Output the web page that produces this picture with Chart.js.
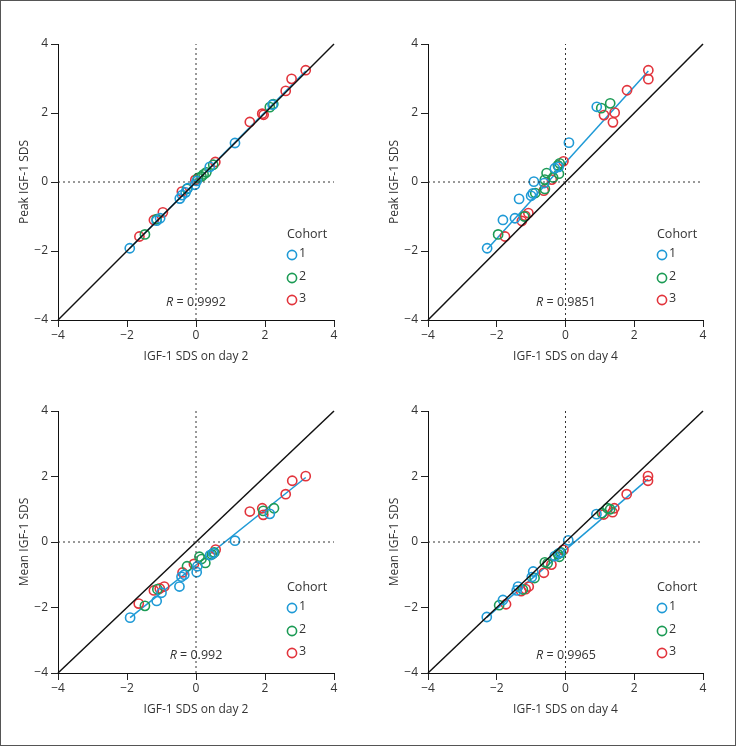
<!DOCTYPE html>
<html><head><meta charset="utf-8">
<script src="https://cdn.jsdelivr.net/npm/chart.js@4.4.1/dist/chart.umd.min.js"></script>
<style>
html,body{margin:0;padding:0;background:#fff;}
#wrap{position:relative;width:736px;height:746px;overflow:hidden;background:#fff;}
.pan{position:absolute;}
#frame{position:absolute;left:0;top:0;width:736px;height:746px;box-sizing:border-box;border:1px solid #555;pointer-events:none;}
</style></head><body><div id="wrap">
<div class="pan" style="left:0;top:0;width:368px;height:373px"><canvas id="c1" width="368" height="373"></canvas></div>
<div class="pan" style="left:368px;top:0;width:368px;height:373px"><canvas id="c2" width="368" height="373"></canvas></div>
<div class="pan" style="left:0;top:373px;width:368px;height:373px"><canvas id="c3" width="368" height="373"></canvas></div>
<div class="pan" style="left:368px;top:373px;width:368px;height:373px"><canvas id="c4" width="368" height="373"></canvas></div>
<div id="frame"></div>
</div>
<script>
// ---- data ----
const cohorts = ['1', '2', '3'];
const tickValues = [-4, -2, 0, 2, 4];
const xTitles = ['IGF-1 SDS on day 2', 'IGF-1 SDS on day 4', 'IGF-1 SDS on day 2', 'IGF-1 SDS on day 4'];
const yTitles = ['Peak IGF-1 SDS', 'Peak IGF-1 SDS', 'Mean IGF-1 SDS', 'Mean IGF-1 SDS'];
const rValues = ['0.9992', '0.9851', '0.992', '0.9965'];

// Panel 1: peak vs day 2  [x, y]
const p1_c1 = [[-1.92,-1.92],[-1.14,-1.12],[-1.04,-1.05],[-0.47,-0.48],[-0.40,-0.38],[-0.30,-0.30],[-0.24,-0.18],[-0.03,-0.08],[0.02,0.03],[0.40,0.44],[1.13,1.13],[2.22,2.24]];
const p1_c2 = [[-1.48,-1.52],[-1.14,-1.08],[-0.26,-0.20],[0.06,0.12],[0.16,0.16],[0.22,0.22],[0.30,0.28],[0.50,0.50],[2.14,2.17],[2.24,2.26]];
const p1_c3 = [[-1.64,-1.58],[-1.22,-1.10],[-0.96,-0.88],[-0.41,-0.28],[-0.02,0.06],[0.56,0.58],[1.56,1.74],[1.92,1.98],[1.96,1.95],[2.60,2.64],[2.77,2.99],[3.18,3.24]];
// Panel 2: peak vs day 4
const p2_c1 = [[-2.28,-1.92],[-1.82,-1.10],[-1.47,-1.05],[-1.35,-0.49],[-1.00,-0.40],[-0.95,-0.33],[-0.92,0.01],[-0.62,-0.03],[-0.31,0.40],[-0.20,0.44],[0.10,1.14],[0.91,2.18]];
const p2_c2 = [[-1.96,-1.52],[-1.20,-1.00],[-0.88,-0.32],[-0.60,-0.20],[-0.60,0.07],[-0.55,0.26],[-0.36,0.13],[-0.19,0.24],[-0.22,0.48],[-0.17,0.54],[1.04,2.14],[1.30,2.28]];
const p2_c3 = [[-1.76,-1.58],[-1.27,-1.13],[-1.17,-0.98],[-1.08,-0.90],[-0.63,-0.25],[-0.40,0.07],[-0.06,0.60],[1.12,1.94],[1.43,2.01],[1.38,1.73],[1.79,2.66],[2.41,3.24],[2.41,2.98]];
// Panel 3: mean vs day 2
const p3_c1 = [[-1.91,-2.31],[-1.14,-1.80],[-1.00,-1.55],[-0.48,-1.36],[-0.42,-1.06],[-0.34,-1.00],[0.02,-0.92],[0.04,-0.74],[0.41,-0.40],[0.50,-0.34],[1.13,0.04],[2.14,0.86]];
const p3_c2 = [[-1.48,-1.95],[-1.12,-1.44],[-0.26,-0.74],[0.10,-0.45],[0.16,-0.52],[0.27,-0.64],[0.46,-0.38],[0.53,-0.32],[1.95,0.95],[2.26,1.03]];
const p3_c3 = [[-1.66,-1.88],[-1.22,-1.48],[-1.05,-1.42],[-0.92,-1.36],[-0.39,-0.93],[-0.06,-0.67],[0.57,-0.23],[1.56,0.93],[1.92,1.03],[1.95,0.83],[2.60,1.46],[2.79,1.87],[3.18,2.01]];
// Panel 4: mean vs day 4
const p4_c1 = [[-2.29,-2.29],[-1.82,-1.77],[-1.42,-1.48],[-1.38,-1.36],[-0.98,-1.07],[-0.94,-0.90],[-0.31,-0.43],[-0.17,-0.33],[0.08,0.05],[0.90,0.85]];
const p4_c2 = [[-1.93,-1.93],[-1.24,-1.45],[-0.90,-1.10],[-0.60,-0.62],[-0.52,-0.65],[-0.22,-0.37],[-0.13,-0.32],[-0.18,-0.45],[1.06,0.88],[1.22,1.03],[1.30,1.00]];
const p4_c3 = [[-1.73,-1.90],[-1.29,-1.50],[-1.16,-1.44],[-1.07,-1.36],[-0.63,-0.94],[-0.41,-0.69],[-0.06,-0.24],[1.11,0.84],[1.42,1.03],[1.37,0.91],[1.78,1.46],[2.40,2.01],[2.40,1.87]];
// regression line endpoints [x0, x1], [y0, y1]
const fitX = [[-1.92, 3.18], [-2.28, 2.41], [-1.91, 3.18], [-2.29, 2.40]];
const fitY = [[-1.92, 3.22], [-1.95, 3.22], [-2.31, 1.97], [-2.30, 1.92]];
const identity = [-4, 4];

// ---- styles ----
const colors = ['#1f9ad6', '#1c9b55', '#e2343c'];
const FONT = "'Open Sans', 'Noto Sans', sans-serif";
const textColor = '#333';
const minus = s => String(s).replace('-', '\u2212');

const panelData = [[p1_c1,p1_c2,p1_c3],[p2_c1,p2_c2,p2_c3],[p3_c1,p3_c2,p3_c3],[p4_c1,p4_c2,p4_c3]];
const layouts = [
  {yW: 58, padR: 34, padT: 44, xH: 53, yTitlePad: 17, xTitlePad: 9},
  {yW: 60, padR: 33, padT: 44, xH: 53, yTitlePad: 19, xTitlePad: 9},
  {yW: 58, padR: 34, padT: 38, xH: 73, yTitlePad: 17, xTitlePad: 29},
  {yW: 60, padR: 33, padT: 38, xH: 73, yTitlePad: 19, xTitlePad: 29}
];

const overlay = {
  id: 'overlay',
  afterDatasetsDraw(chart, args, opts) {
    const {ctx, chartArea: a} = chart;
    ctx.save();
    ctx.fillStyle = textColor;
    ctx.textBaseline = 'middle';
    ctx.font = '12.5px ' + FONT;
    ctx.textAlign = 'left';
    ctx.fillText('Cohort', a.left + 229, a.bottom - 86);
    const offs = [67, 44, 22];
    cohorts.forEach((c, i) => {
      ctx.beginPath();
      ctx.strokeStyle = colors[i];
      ctx.lineWidth = 1.6;
      ctx.arc(a.left + 234, a.bottom - offs[i] + 2, 4.6, 0, Math.PI * 2);
      ctx.stroke();
      ctx.fillStyle = textColor;
      ctx.fillText(c, a.left + 241, a.bottom - offs[i]);
    });
    // R label
    const cx = a.left + 138, cy = a.bottom - 18;
    ctx.font = 'italic 12.5px ' + FONT;
    const r = 'R';
    const wR = ctx.measureText(r).width;
    ctx.font = '12.5px ' + FONT;
    const rest = ' = ' + opts.r;
    const wRest = ctx.measureText(rest).width;
    const x0 = cx - (wR + wRest) / 2;
    ctx.font = 'italic 12.5px ' + FONT;
    ctx.fillText(r, x0, cy);
    ctx.font = '12.5px ' + FONT;
    ctx.fillText(rest, x0 + wR, cy);
    ctx.restore();
  }
};

function axis(isX, L, title) {
  return {
    type: 'linear', min: -4, max: 4,
    afterBuildTicks: s => { s.ticks = tickValues.map(v => ({value: v})); },
    afterFit: s => { if (isX) s.height = L.xH; else s.width = L.yW; },
    grid: {drawOnChartArea: false, drawTicks: true, tickLength: 7, color: '#222', lineWidth: 1},
    border: {display: true, color: '#111', width: 1},
    ticks: {color: textColor, font: {family: FONT, size: 12}, padding: isX ? 1 : 3,
      callback: v => minus(v), maxRotation: 0, autoSkip: false},
    title: {display: true, text: title, color: textColor, font: {family: FONT, size: 12},
      padding: isX ? {top: 0, bottom: L.xTitlePad} : {top: L.yTitlePad, bottom: 0}}
  };
}

panelData.forEach((sets, p) => {
  const L = layouts[p];
  const datasets = [];
  const dotted = {type: 'line', borderColor: '#333', borderWidth: 1, borderDash: [2, 3],
    pointRadius: 0, fill: false, showLine: true, clip: false};
  datasets.push(Object.assign({}, dotted, {data: [{x: 0, y: identity[0]}, {x: 0, y: identity[1]}]}));
  datasets.push(Object.assign({}, dotted, {data: [{x: identity[0], y: 0}, {x: identity[1], y: 0}]}));
  datasets.push({type: 'line', data: [{x: identity[0], y: identity[0]}, {x: identity[1], y: identity[1]}],
    borderColor: '#111', borderWidth: 1.5, pointRadius: 0, fill: false, clip: false});
  sets.forEach((pts, i) => {
    datasets.push({type: 'scatter', label: cohorts[i], data: pts.map(d => ({x: d[0], y: d[1]})),
      pointStyle: 'circle', pointRadius: 4.6, pointBorderWidth: 1.6,
      borderColor: colors[i], backgroundColor: 'rgba(0,0,0,0)', clip: false});
  });
  datasets.push({type: 'line', data: fitX[p].map((x, k) => ({x: x, y: fitY[p][k]})),
    borderColor: colors[0], borderWidth: 1.5, pointRadius: 0, fill: false, clip: false});

  new Chart(document.getElementById('c' + (p + 1)), {
    type: 'scatter',
    data: {datasets},
    options: {
      responsive: false, animation: false, devicePixelRatio: 1,
      layout: {padding: {left: 0, right: L.padR, top: L.padT, bottom: 0}},
      plugins: {legend: {display: false}, tooltip: {enabled: false}, overlay: {r: rValues[p]}},
      scales: {x: axis(true, L, xTitles[p]), y: axis(false, L, yTitles[p])}
    },
    plugins: [overlay]
  });
});
</script>
</body></html>
